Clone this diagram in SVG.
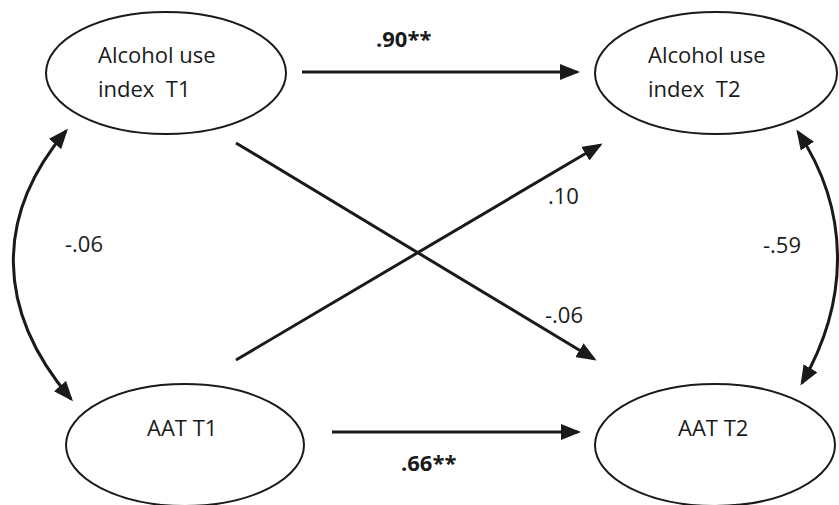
<svg xmlns="http://www.w3.org/2000/svg" width="839" height="505" viewBox="0 0 839 505">
<defs>
<style>
.node ellipse{fill:#fff;stroke:#1a1a1a;stroke-width:2}
.lbl{font-family:"Open Sans","Liberation Sans",sans-serif;font-size:22px;fill:#1a1a1a}
.b{font-weight:bold}
.edge{fill:none;stroke:#1a1a1a;stroke-width:3}
</style>
<marker id="ah" markerUnits="userSpaceOnUse" markerWidth="20" markerHeight="16" viewBox="0 0 20 16" refX="17" refY="8" orient="auto-start-reverse">
<path d="M0,0 L20,8 L0,16 z" fill="#1a1a1a"/>
</marker>
</defs>
<rect width="839" height="505" fill="#fff"/>
<g id="connectors">
<path class="edge" d="M302,72 L577,72" marker-end="url(#ah)"/>
<path class="edge" d="M332,432 L578,432" marker-end="url(#ah)"/>
<path class="edge" d="M236,360 L600,145" marker-end="url(#ah)"/>
<path class="edge" d="M236,143 L594,359" marker-end="url(#ah)"/>
<path class="edge" d="M66,131 C-5,215 -5,310 71,399" marker-start="url(#ah)" marker-end="url(#ah)"/>
<path class="edge" d="M798,132 C850,210 850,300 802,383" marker-start="url(#ah)" marker-end="url(#ah)"/>
<text class="lbl b" x="376" y="47">.90**</text>
<text class="lbl b" x="401" y="471">.66**</text>
<text class="lbl" x="65" y="252">-.06</text>
<text class="lbl" x="548" y="204">.10</text>
<text class="lbl" x="545" y="323">-.06</text>
<text class="lbl" x="763" y="253">-.59</text>
</g>
<g id="n1" class="node">
<ellipse cx="166" cy="73" rx="120" ry="61"/>
<text class="lbl" x="98" y="63">Alcohol use</text>
<text class="lbl" x="98" y="97" xml:space="preserve">index  T1</text>
</g>
<g id="n2" class="node">
<ellipse cx="716" cy="73" rx="121" ry="61"/>
<text class="lbl" x="648" y="63">Alcohol use</text>
<text class="lbl" x="648" y="97" xml:space="preserve">index  T2</text>
</g>
<g id="n3" class="node">
<ellipse cx="185" cy="445" rx="119" ry="61"/>
<text class="lbl" x="147" y="436">AAT T1</text>
</g>
<g id="n4" class="node">
<ellipse cx="715" cy="445" rx="120" ry="61"/>
<text class="lbl" x="678" y="436">AAT T2</text>
</g>
</svg>
